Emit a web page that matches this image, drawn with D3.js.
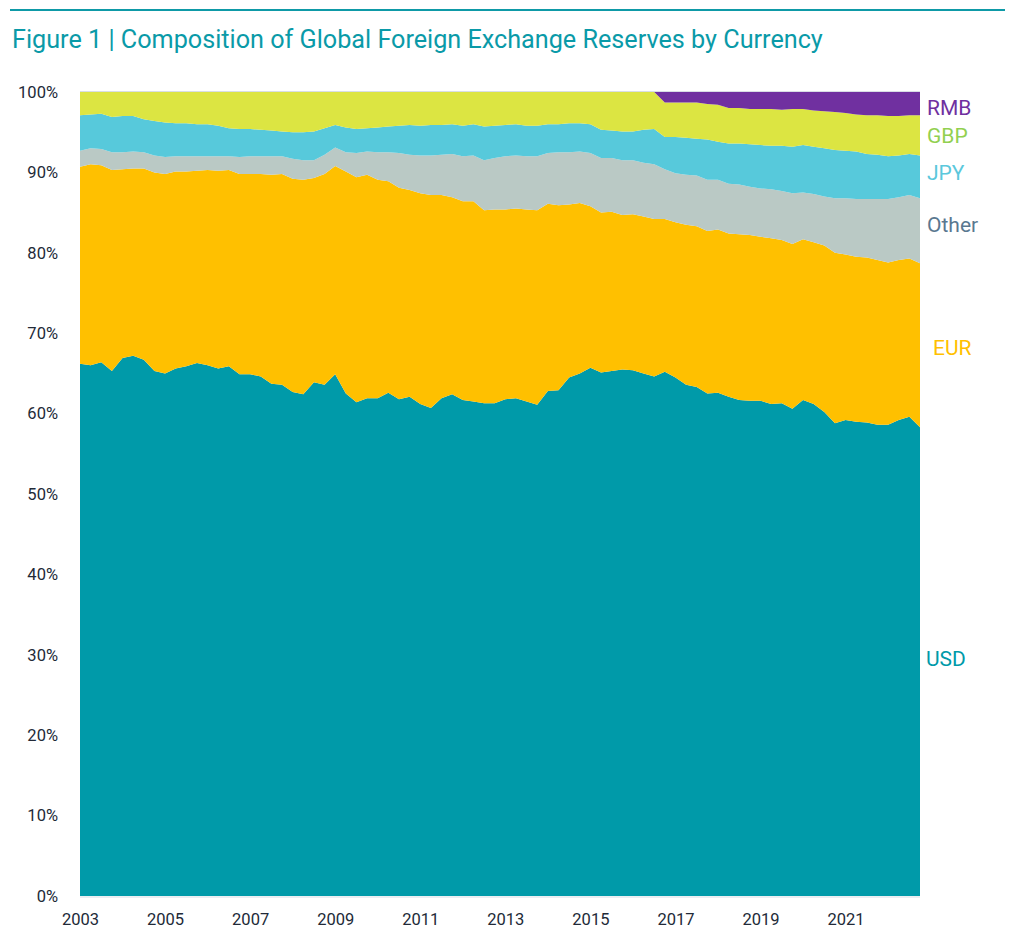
<!DOCTYPE html>
<html>
<head>
<meta charset="utf-8">
<script src="https://cdn.jsdelivr.net/npm/d3@7"></script>
<style>
  body { margin: 0; background: #fff; }
  svg { display: block; font-family: Roboto, "Noto Sans", sans-serif; }
</style>
</head>
<body>
<div id="container"></div>
<script>
// quarterly shares of allocated reserves (%), 2003 Q1 .. 2022 Q4
const START_YEAR = 2003;
const usd = [
  66.2, 66.0, 66.4, 65.3, 66.9, 67.2, 66.7, 65.3, 65.0, 65.6,
  65.9, 66.3, 66.0, 65.6, 65.9, 64.9, 64.9, 64.6, 63.7, 63.6,
  62.7, 62.4, 63.9, 63.6, 64.9, 62.5, 61.4, 61.9, 61.9, 62.6,
  61.8, 62.1, 61.2, 60.7, 61.9, 62.4, 61.7, 61.5, 61.3, 61.3,
  61.8, 61.9, 61.5, 61.1, 62.8, 62.9, 64.5, 65.0, 65.7, 65.1,
  65.3, 65.5, 65.4, 65.0, 64.6, 65.2, 64.5, 63.6, 63.3, 62.5,
  62.6, 62.1, 61.7, 61.6, 61.6, 61.2, 61.3, 60.6, 61.7, 61.2,
  60.2, 58.8, 59.2, 59.0, 58.9, 58.6, 58.6, 59.2, 59.6, 58.3
];
const eur = [
  24.5, 25.0, 24.5, 25.0, 23.5, 23.3, 23.8, 24.7, 24.8, 24.5,
  24.2, 23.9, 24.3, 24.6, 24.4, 24.9, 24.9, 25.2, 26.0, 26.2,
  26.5, 26.7, 25.4, 26.2, 25.9, 27.6, 28.0, 27.8, 27.2, 26.3,
  26.3, 25.7, 26.2, 26.5, 25.3, 24.5, 24.7, 24.9, 24.0, 24.1,
  23.6, 23.6, 23.9, 24.2, 23.3, 23.0, 21.5, 21.2, 20.1, 19.9,
  19.8, 19.2, 19.4, 19.5, 19.6, 19.0, 19.3, 19.9, 20.0, 20.2,
  20.3, 20.3, 20.6, 20.6, 20.4, 20.6, 20.3, 20.5, 20.0, 20.1,
  20.7, 21.2, 20.6, 20.5, 20.5, 20.5, 20.2, 19.9, 19.7, 20.4
];
const other = [
  2.0, 2.0, 2.0, 2.2, 2.1, 2.1, 2.0, 2.1, 2.1, 1.9,
  1.9, 1.8, 1.7, 1.8, 1.7, 2.1, 2.2, 2.2, 2.3, 2.2,
  2.5, 2.4, 2.2, 2.4, 2.3, 2.4, 3.0, 2.9, 3.4, 3.6,
  4.3, 4.4, 4.7, 4.9, 5.0, 5.4, 5.6, 5.7, 6.2, 6.4,
  6.6, 6.6, 6.6, 6.7, 6.3, 6.6, 6.5, 6.4, 6.6, 6.8,
  6.7, 6.8, 6.7, 6.7, 6.8, 6.2, 6.1, 6.2, 6.3, 6.4,
  6.2, 6.2, 6.2, 6.0, 6.0, 6.1, 6.1, 6.3, 5.8, 6.0,
  6.1, 6.8, 7.0, 7.2, 7.3, 7.6, 7.9, 7.8, 7.9, 8.1
];
const jpy = [
  4.4, 4.2, 4.4, 4.4, 4.5, 4.4, 4.1, 4.3, 4.3, 4.1,
  4.1, 4.0, 4.0, 3.8, 3.5, 3.5, 3.4, 3.3, 3.2, 3.1,
  3.3, 3.5, 3.6, 3.3, 2.8, 3.1, 3.0, 2.9, 3.1, 3.2,
  3.4, 3.7, 3.7, 3.8, 3.7, 3.7, 3.8, 3.9, 4.2, 4.0,
  3.9, 3.9, 3.8, 3.8, 3.6, 3.5, 3.6, 3.5, 3.6, 3.5,
  3.4, 3.6, 3.6, 4.1, 4.4, 4.0, 4.5, 4.6, 4.6, 5.0,
  4.7, 5.0, 5.1, 5.3, 5.4, 5.4, 5.6, 5.8, 5.9, 5.9,
  6.0, 6.0, 5.9, 5.9, 5.6, 5.5, 5.3, 5.2, 5.1, 5.3
];
const gbp = [
  2.9, 2.8, 2.7, 3.1, 3.0, 3.0, 3.4, 3.6, 3.8, 3.9,
  3.9, 4.0, 4.0, 4.2, 4.5, 4.6, 4.6, 4.7, 4.8, 4.9,
  5.0, 5.0, 4.9, 4.5, 4.1, 4.4, 4.6, 4.5, 4.4, 4.3,
  4.2, 4.1, 4.2, 4.1, 4.1, 4.0, 4.2, 4.0, 4.3, 4.2,
  4.1, 4.0, 4.2, 4.2, 4.0, 4.0, 3.9, 3.9, 4.0, 4.7,
  4.8, 4.9, 4.9, 4.7, 4.6, 4.3, 4.3, 4.4, 4.5, 4.4,
  4.6, 4.4, 4.4, 4.4, 4.5, 4.6, 4.5, 4.7, 4.5, 4.5,
  4.6, 4.7, 4.7, 4.6, 4.8, 4.9, 5.0, 4.9, 4.8, 5.0
];
const rmb = [
  0, 0, 0, 0, 0, 0, 0, 0, 0, 0,
  0, 0, 0, 0, 0, 0, 0, 0, 0, 0,
  0, 0, 0, 0, 0, 0, 0, 0, 0, 0,
  0, 0, 0, 0, 0, 0, 0, 0, 0, 0,
  0, 0, 0, 0, 0, 0, 0, 0, 0, 0,
  0, 0, 0, 0, 0, 1.3, 1.3, 1.3, 1.3, 1.5,
  1.6, 2.0, 2.0, 2.1, 2.1, 2.1, 2.2, 2.1, 2.1, 2.3,
  2.4, 2.5, 2.6, 2.8, 2.9, 2.9, 3.0, 3.0, 2.9, 2.9
];
const keys = ['usd', 'eur', 'other', 'jpy', 'gbp', 'rmb'];
const labels = ['USD', 'EUR', 'Other', 'JPY', 'GBP', 'RMB'];
const yearTicks = [2003, 2005, 2007, 2009, 2011, 2013, 2015, 2017, 2019, 2021];
const pctTicks = [0, 10, 20, 30, 40, 50, 60, 70, 80, 90, 100];

const areaColors = { usd: '#009aa9', eur: '#ffc000', other: '#bac9c5', jpy: '#57c9db', gbp: '#dce542', rmb: '#7030a0' };
const textColors = { usd: '#009aa9', eur: '#ffc000', other: '#5a7890', jpy: '#5bc8dc', gbp: '#92d050', rmb: '#7030a0' };
// label baselines (y in px) next to the right edge
const labelY = { rmb: 115, gbp: 143, jpy: 180, other: 232, eur: 355, usd: 666 };

const rows = usd.map((v, i) => ({
  date: START_YEAR + i / 4,
  usd: v, eur: eur[i], other: other[i], jpy: jpy[i], gbp: gbp[i], rmb: rmb[i]
}));

const width = 1020, height = 944;
const margin = { left: 80, right: 100, top: 92, bottom: 48 };

const svg = d3.select('#container').append('svg')
  .attr('width', width)
  .attr('height', height);

// top rule + title
svg.append('rect')
  .attr('x', 10).attr('y', 9).attr('width', 995).attr('height', 2)
  .attr('fill', '#0e9aa7');
svg.append('text')
  .attr('x', 12).attr('y', 48)
  .attr('fill', '#0a9aa8')
  .style('font-size', '25.2px')
  .text('Figure 1 | Composition of Global Foreign Exchange Reserves by Currency');

const x = d3.scaleLinear()
  .domain([START_YEAR, rows[rows.length - 1].date])
  .range([margin.left, width - margin.right]);
const y = d3.scaleLinear()
  .domain([0, 100])
  .range([height - margin.bottom, margin.top]);

const series = d3.stack().keys(keys)(rows);

const area = d3.area()
  .x(d => x(d.data.date))
  .y0(d => y(d[0]))
  .y1(d => y(Math.min(d[1], 100)));

svg.append('g')
  .selectAll('path')
  .data(series)
  .join('path')
    .attr('fill', d => areaColors[d.key])
    .attr('d', area);

// faint lines at the top and bottom of the plot
svg.append('g')
  .selectAll('line')
  .data([0, 100])
  .join('line')
    .attr('x1', margin.left)
    .attr('x2', width - margin.right)
    .attr('y1', d => y(d) + (d === 0 ? 1 : -0.5))
    .attr('y2', d => y(d) + (d === 0 ? 1 : -0.5))
    .attr('stroke', '#d8dee5')
    .attr('stroke-width', 1.2);

const yAxis = svg.append('g')
  .attr('transform', `translate(${margin.left - 19},0)`)
  .call(d3.axisLeft(y).tickValues(pctTicks).tickSize(0).tickFormat(d => d + '%'));
yAxis.select('.domain').remove();
yAxis.selectAll('text')
  .attr('fill', '#222a38')
  .style('font-family', 'Roboto, sans-serif')
  .style('font-size', '16.5px');

const xAxis = svg.append('g')
  .attr('transform', `translate(0,${height - margin.bottom + 14})`)
  .call(d3.axisBottom(x).tickValues(yearTicks).tickSize(0).tickFormat(d3.format('d')));
xAxis.select('.domain').remove();
xAxis.selectAll('text')
  .attr('fill', '#222a38')
  .style('font-family', 'Roboto, sans-serif')
  .style('font-size', '16.5px');

// series labels on the right
svg.append('g')
  .selectAll('text')
  .data(keys)
  .join('text')
    .attr('x', (d) => d === 'eur' ? 933 : (d === 'usd' ? 926 : 927))
    .attr('y', d => labelY[d])
    .attr('fill', d => textColors[d])
    .style('font-size', '21px')
    .text((d, i) => labels[i]);
</script>
</body>
</html>
